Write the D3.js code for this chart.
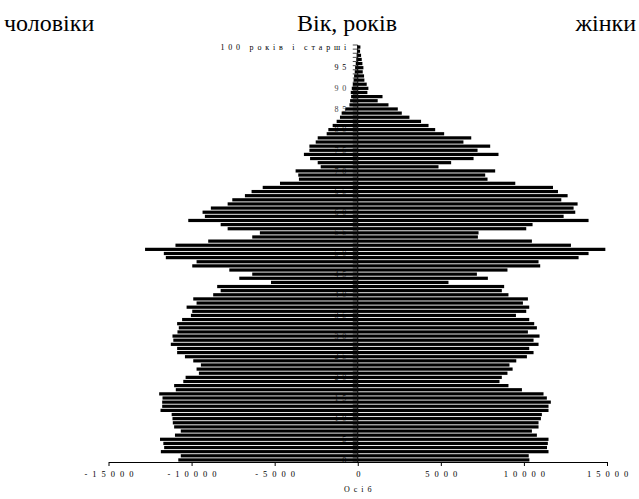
<!DOCTYPE html>
<html>
<head>
<meta charset="utf-8">
<script src="https://cdn.jsdelivr.net/npm/d3@7"></script>
<style>
  body { margin: 0; background: #fff; }
  text { font-family: "Liberation Serif", "DejaVu Serif", serif; }
  .age-label { font-size: 8px; letter-spacing: 3.8px; }
  .x-axis text { font-size: 8.5px; letter-spacing: 5px; }
  .title { font-size: 24px; fill: #000; }
</style>
</head>
<body>
<svg id="pyramid" width="639" height="499"></svg>
<script>
// age groups 0 ... 100+
const ages = d3.range(0, 101);

// чоловіки, осіб (index = age)
const men = [
  10800, 10650, 11850, 11650, 11700, 11900, 11000, 10650, 11050, 11130,
  11150, 11200, 11870, 11770, 11770, 11750, 11950, 10950, 11050, 10500,
  10360, 9560, 9700, 9440, 9900, 10400, 10870, 10870, 11250, 11100,
  11150, 10850, 10770, 10870, 10570, 10040, 9960, 10300, 9700, 9900,
  8700, 8250, 8460, 5220, 7130, 6350, 7730, 9960, 9700, 11550,
  11670, 12800, 10970, 9000, 6350, 5890, 7830, 8250, 10200, 9200,
  9340, 8840, 7830, 7550, 6790, 6390, 5720, 4680, 3540, 3580,
  3740, 2230, 2410, 2870, 3240, 2910, 2910, 2530, 2410, 1870,
  1770, 1510, 1270, 1070, 970, 750, 500, 460, 400, 420,
  360, 300, 250, 220, 180, 160, 120, 90, 70, 50,
  40
];

// жінки, осіб (index = age)
const women = [
  10330, 10290, 11480, 11390, 11440, 11480, 10780, 10480, 10880, 10880,
  11020, 11080, 11480, 11480, 11620, 11380, 11180, 9880, 9070, 8530,
  8670, 9010, 9320, 9130, 9540, 10180, 10580, 10320, 10880, 10580,
  10940, 10240, 10780, 10620, 10320, 9520, 10140, 10320, 9940, 10240,
  9070, 8670, 8810, 5460, 7830, 7170, 9010, 10980, 10880, 13290,
  13890, 14900, 12830, 10480, 7230, 7270, 10140, 10520, 13890, 12390,
  13090, 12990, 13230, 12250, 12630, 12050, 11750, 9480, 7810, 7670,
  8270, 4860, 5620, 6970, 8470, 7210, 7970, 6360, 6830, 5200,
  4660, 4260, 3810, 3110, 2650, 2410, 1850, 1200, 1490, 580,
  640, 540, 400, 380, 300, 340, 280, 240, 200, 140,
  160
];

const xTicks = [-15000, -10000, -5000, 0, 5000, 10000, 15000];
const ageTicks = [0, 5, 10, 15, 20, 25, 30, 35, 40, 45, 50, 55, 60, 65, 70, 75, 80, 85, 90, 95, 100];
const ageTickText = ["0", "5", "10", "15", "20", "25", "30", "35", "40", "45", "50",
  "55", "60", "65", "70", "75", "80", "85", "90", "95", "100 років і старші"];

const serif = "'Liberation Serif', 'DejaVu Serif', serif";
const svg = d3.select("#pyramid");

const x = d3.scaleLinear().domain([-15000, 15000]).range([108.5, 607]);
const y = d3.scaleBand().domain(ages).range([462, 45]).paddingInner(0.22).paddingOuter(0.11);
const x0 = x(0);
const step = y.step();

const labelLayer = svg.append("g").attr("class", "age-labels");
const barLayer = svg.append("g").attr("class", "bars");
const axisLayer = svg.append("g").attr("class", "axes");

// age labels sit behind the bars
labelLayer.selectAll("text")
  .data(ageTicks)
  .join("text")
  .attr("class", "age-label")
  .attr("font-family", serif)
  .attr("x", 350)
  .attr("y", (d) => y(d) + y.bandwidth() / 2)
  .attr("dy", "0.33em")
  .attr("text-anchor", "end")
  .attr("fill", (d) => d >= 10 && d <= 90 ? "#444" : "#000")
  .text((d, i) => ageTickText[i]);

barLayer.selectAll("rect.men")
  .data(ages)
  .join("rect")
  .attr("class", "men")
  .attr("x", (d) => x(-men[d]))
  .attr("width", (d) => x0 - x(-men[d]))
  .attr("y", (d) => y(d))
  .attr("height", y.bandwidth())
  .attr("fill", "#000");

barLayer.selectAll("rect.women")
  .data(ages)
  .join("rect")
  .attr("class", "women")
  .attr("x", x0)
  .attr("width", (d) => x(women[d]) - x0)
  .attr("y", (d) => y(d))
  .attr("height", y.bandwidth())
  .attr("fill", "#000");

// vertical axis with a tick at every band edge
axisLayer.append("line")
  .attr("x1", x0).attr("x2", x0)
  .attr("y1", 45).attr("y2", 462)
  .attr("stroke", "#000");

axisLayer.selectAll("line.ytick")
  .data(d3.range(0, ages.length + 1))
  .join("line")
  .attr("class", "ytick")
  .attr("x1", x0 - 5).attr("x2", x0)
  .attr("y1", (d) => 462 - d * step)
  .attr("y2", (d) => 462 - d * step)
  .attr("stroke", "#000")
  .attr("stroke-width", 0.7);

const xAxis = axisLayer.append("g")
  .attr("class", "x-axis")
  .attr("transform", "translate(0,462)")
  .call(d3.axisBottom(x).tickValues(xTicks).tickSize(4).tickSizeOuter(0).tickFormat((d) => String(d)));

xAxis.attr("font-family", serif);
xAxis.select(".domain").attr("stroke", "#000");
xAxis.selectAll("text").attr("y", 9).attr("fill", "#000").attr("dx", "2.5px");

svg.append("text")
  .attr("class", "age-label")
  .attr("font-family", serif)
  .attr("x", x0 + 2)
  .attr("y", 492)
  .attr("text-anchor", "middle")
  .style("letter-spacing", "4px")
  .text("Осіб");

svg.append("text").attr("class", "title").attr("font-family", serif).attr("x", 4).attr("y", 31).text("чоловіки");
svg.append("text").attr("class", "title").attr("font-family", serif).attr("x", 347).attr("y", 31).attr("text-anchor", "middle").text("Вік, років");
svg.append("text").attr("class", "title").attr("font-family", serif).attr("x", 636).attr("y", 31).attr("text-anchor", "end").text("жінки");
</script>
</body>
</html>
